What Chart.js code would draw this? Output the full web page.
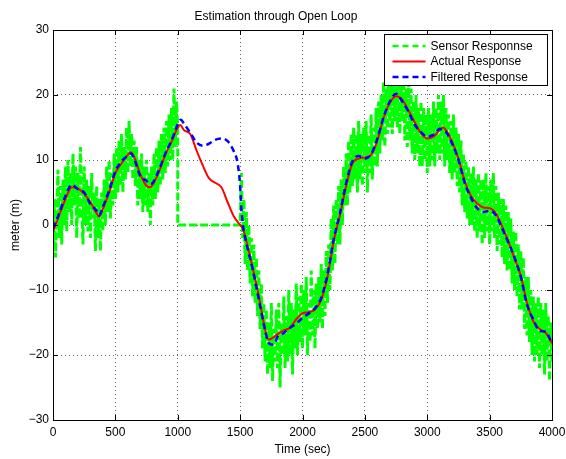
<!DOCTYPE html>
<html><head><meta charset="utf-8">
<script src="https://cdn.jsdelivr.net/npm/chart.js@4.4.1/dist/chart.umd.min.js"></script>
<style>html,body{margin:0;padding:0;background:#fff}canvas{display:block}</style>
</head><body>
<canvas id="c" width="566" height="459"></canvas>
<script>
const titleText = 'Estimation through Open Loop';
const xTitle = 'Time (sec)';
const yTitle = 'meter (m)';
const xTicks = [0,500,1000,1500,2000,2500,3000,3500,4000];
const yTicks = [-30,-20,-10,0,10,20,30];
const seriesLabels = ['Sensor Responnse','Actual Response','Filtered Response'];

// Sensor samples every 10 s, 0..1000 s
const sensorStepSec = 10;
const sensorStartA = 0;
const sensorA = [
-3,4,-5,2,8.5, -2,6,-3,7,0, 9,-1,10,2,8, 0,11,3,9,-2,
8,1,12,4,-3, 9,0,7,-1,6, -2,8,1,5,-4, 6,-2,4,-4,5,
-1,7,0,9,2, 10,1,8,3,11, 4,12,5,13,6, 14,5,12,7,15,
8,16,9,14,7, 13,6,12,3,10, 4,11,2,9,3, 10,2,8,0,9,
3,11,4,12,5, 13,6,14,7,15, 8,16,9,17,10, 18,10,21,12,19,
15];
// Sensor dropout segment (time, value)
const sensorGapT = [1000,1500];
const sensorGapV = [0,0];
// Sensor samples every 10 s, 1500..4000 s
const sensorStartB = 1500;
const sensorB = [
0,8,-2,4,-6, 2,-7,0,-9,-2, -11,-3,-12,-5,-14, -7,-16,-9,-19,-12,
-21,-13,-23,-15,-22, -12,-24,-16,-21,-13, -22,-12,-25,-15,-20, -11,-22,-14,-21,-10,
-20,-12,-23,-13,-19, -9,-20,-11,-18,-9, -19,-10,-17,-8,-20, -12,-18,-7,-17,-10,
-19,-9,-16,-8,-15, -6,-16,-7,-14,-4, -12,-3,-10,1,-7, 3,-6,4,-3,6,
-3,7,0,9,3, 11,3,13,5,14, 6,15,7,14,5, 16,7,14,6,15,
8,16,5,14,8, 17,7,15,9,18, 9,19,11,20,13, 22,12,21,14,23,
15,23,14,22,16, 24,15,23,14,22, 16,24,13,21,12, 22,13,21,11,19,
10,20,11,18,9, 19,9,18,10,17, 8,18,9,17,10, 19,9,18,11,20,
10,19,11,20,9, 18,10,17,8,16, 7,17,8,15,6, 14,5,13,3,11,
2,10,1,9,0, 8,0,9,-1,7, -2,8,-1,7,-3, 7,-2,8,-1,6,
-3,7,-1,8,-2, 6,-4,5,-3,4, -5,4,-6,3,-7, 2,-7,1,-9,-1,
-10,-1,-11,-3,-13, -4,-13,-5,-16,-8, -17,-8,-18,-10,-20, -11,-21,-12,-20,-11,
-22,-12,-20,-13,-23, -12,-21,-14,-24,-15,
-21];

const actualT = [0,50,100,150,200,250,300,350,370,400,450,500,550,600,625,650,700,750,775,800,850,900,950,1000,1020,1050,1100,1150,1200,1250,1300,1350,1400,1450,1500,1525,1550,1600,1650,1700,1725,1750,1800,1850,1900,1950,2000,2050,2100,2150,2200,2250,2300,2350,2400,2450,2500,2550,2600,2650,2700,2750,2800,2850,2900,2950,3000,3050,3100,3125,3150,3200,3250,3300,3350,3400,3450,3500,3550,3600,3650,3700,3750,3800,3850,3900,3950,4000];
const actualV = [-1,1.5,4,5.8,5.6,4.8,3.5,1.8,1.3,2.5,5,8,9.5,10.8,11.2,10.5,7.8,6,5.8,6.2,8.2,10.8,12.8,15,15.4,14.6,14,11.5,9.2,7.2,6.5,5.8,3.5,1.3,0,-0.7,-2.5,-6.5,-11,-16,-17.6,-17.5,-16.8,-16.2,-15.8,-14.5,-13.6,-13.4,-13,-11.5,-8,-2.5,1.5,6,9.5,10.2,10.4,10.8,13,16.5,18.8,19.8,19.3,17.6,15.8,14.1,13.3,13.6,14.6,15,14.6,12.8,10.2,6.8,4.5,3.3,2.7,2.6,1.8,-0.2,-2.5,-5.2,-7.8,-12,-14.8,-16,-16.6,-18.2];

const filteredT = [0,50,100,150,200,250,300,350,370,400,450,500,550,600,625,650,700,750,775,800,850,900,950,1000,1025,1050,1100,1150,1200,1250,1300,1350,1400,1450,1480,1500,1510,1525,1550,1600,1650,1700,1725,1750,1775,1800,1850,1900,1950,2000,2050,2100,2150,2200,2250,2300,2350,2400,2450,2500,2550,2600,2650,2700,2750,2800,2850,2900,2950,3000,3050,3100,3125,3150,3200,3250,3300,3350,3400,3450,3500,3550,3600,3650,3700,3750,3800,3850,3900,3950,4000];
const filteredV = [-0.5,1.8,4.5,6.2,5.5,5,3.2,2.2,1.5,2.8,5.3,8.3,9.8,10.7,11,10.2,7.5,6.8,6.3,6.5,8.5,11,13,15.5,16.2,15.6,14.2,12.7,12.2,12.5,13.1,13.3,12.9,11.3,9.5,6,2.5,-0.3,-2.8,-6.8,-11.5,-16.2,-18,-18.4,-18.3,-17.2,-16.6,-15.8,-15.2,-14.3,-13.6,-12.8,-11.2,-7.6,-2.2,1.8,6.5,9.8,10.6,10.2,10.9,13.3,16.6,19,20.2,19,17.4,15.4,14.3,13.6,13.9,14.8,14.5,14.3,12.5,10,6.5,4.2,2.6,2,2.2,1.5,-0.5,-2.7,-5,-8,-12.3,-14.5,-16.3,-16.4,-18.3];

// ---- build datasets from the arrays ----
const sensorPts = [];
sensorA.forEach((v,i)=>sensorPts.push({x:sensorStartA+i*sensorStepSec,y:v}));
sensorGapT.forEach((t,i)=>sensorPts.push({x:t,y:sensorGapV[i]}));
sensorB.forEach((v,i)=>sensorPts.push({x:sensorStartB+i*sensorStepSec,y:v}));
const actualPts = actualT.map((t,i)=>({x:t,y:actualV[i]}));
const filteredPts = filteredT.map((t,i)=>({x:t,y:filteredV[i]}));

const FONT = "'Liberation Sans', Arial, Helvetica, sans-serif";
Chart.defaults.font.family = FONT;
Chart.defaults.font.size = 12;
Chart.defaults.color = '#000';

const frameLegend = {
  id:'frameLegend',
  afterDatasetsDraw(chart){
    const {ctx, chartArea:a, scales:{x,y}} = chart;
    ctx.save();
    ctx.setLineDash([]);
    ctx.strokeStyle='#000';
    ctx.lineWidth=1;
    ctx.beginPath();
    xTicks.forEach(v=>{
      const px=Math.round(x.getPixelForValue(v))+0.5;
      ctx.moveTo(px,a.bottom); ctx.lineTo(px,a.bottom-5);
      ctx.moveTo(px,a.top); ctx.lineTo(px,a.top+5);
    });
    yTicks.forEach(v=>{
      const py=Math.round(y.getPixelForValue(v))+0.5;
      ctx.moveTo(a.left,py); ctx.lineTo(a.left+5,py);
      ctx.moveTo(a.right,py); ctx.lineTo(a.right-5,py);
    });
    ctx.stroke();
    ctx.strokeRect(Math.round(a.left)+0.5, Math.round(a.top)+0.5, Math.round(a.right-a.left), Math.round(a.bottom-a.top));
    // legend box
    const bw=163, bh=51;
    const bx=Math.round(a.right)-5-bw+0.5, by=Math.round(a.top)+4+0.5;
    ctx.fillStyle='#fff';
    ctx.fillRect(bx,by,bw,bh);
    ctx.strokeRect(bx,by,bw,bh);
    ctx.font='12px '+FONT;
    ctx.textBaseline='middle';
    ctx.textAlign='left';
    chart.data.datasets.forEach((ds,i)=>{
      const ry = by+11.5+i*15.5;
      ctx.save();
      ctx.strokeStyle=ds.borderColor;
      ctx.lineWidth=Math.min(ds.borderWidth,2.5);
      ctx.setLineDash(ds.legendDash||[]);
      ctx.beginPath();
      ctx.moveTo(bx+8,ry); ctx.lineTo(bx+41,ry);
      ctx.stroke();
      ctx.restore();
      ctx.fillStyle='#000';
      ctx.fillText(ds.label,bx+46,ry+0.5);
    });
    ctx.restore();
  }
};

const minus = v => String(v).replace('-','\u2212');

new Chart(document.getElementById('c'),{
  type:'line',
  data:{datasets:[
    {label:seriesLabels[0],data:sensorPts,borderColor:'#00ff00',borderWidth:3,borderDash:[8,3],legendDash:[6,4],pointRadius:0,tension:0,fill:false,order:3},
    {label:seriesLabels[1],data:actualPts,borderColor:'#ff0000',borderWidth:2,pointRadius:0,cubicInterpolationMode:'monotone',fill:false,order:2},
    {label:seriesLabels[2],data:filteredPts,borderColor:'#0000ff',borderWidth:2.5,borderDash:[6,4],legendDash:[6,4],pointRadius:0,cubicInterpolationMode:'monotone',fill:false,order:1}
  ]},
  options:{
    responsive:false,animation:false,devicePixelRatio:1,
    layout:{padding:{left:0,right:14,top:0,bottom:0}},
    plugins:{
      legend:{display:false},
      tooltip:{enabled:false},
      title:{display:true,text:titleText,font:{size:12,weight:'normal'},color:'#000',padding:{top:9,bottom:6.6}}
    },
    scales:{
      x:{type:'linear',min:0,max:4000,
        afterBuildTicks:s=>{s.ticks=xTicks.map(v=>({value:v}));},
        afterFit:s=>{s.height=39;s.paddingRight=0;s.paddingLeft=0;},
        ticks:{padding:5,maxRotation:0,autoSkip:false,callback:v=>minus(v),font:{size:12}},
        grid:{color:'rgba(0,0,0,0.6)',lineWidth:1,drawTicks:false},
        border:{display:false,dash:[1,3]},
        title:{display:true,text:xTitle,font:{size:12},padding:{top:0,bottom:2}}
      },
      y:{type:'linear',min:-30,max:30,
        afterBuildTicks:s=>{s.ticks=yTicks.map(v=>({value:v}));},
        afterFit:s=>{s.width=53;},
        ticks:{padding:4,autoSkip:false,callback:v=>minus(v),font:{size:12}},
        grid:{color:'rgba(0,0,0,0.6)',lineWidth:1,drawTicks:false},
        border:{display:false,dash:[1,3]},
        title:{display:true,text:yTitle,font:{size:12},padding:{top:8,bottom:0}}
      }
    }
  },
  plugins:[frameLegend]
});
</script>
</body></html>
